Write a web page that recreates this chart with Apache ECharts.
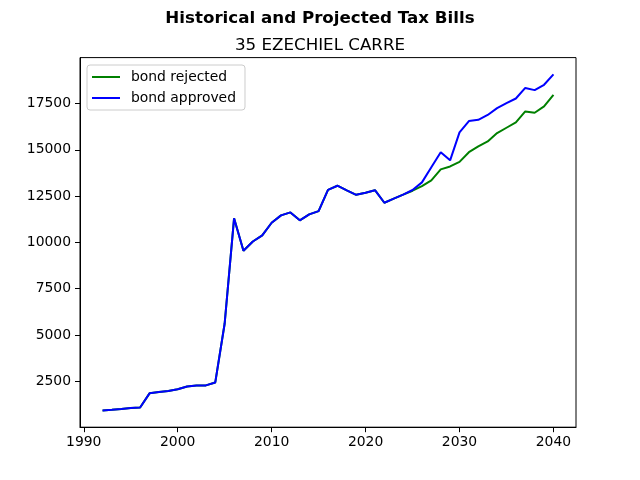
<!DOCTYPE html>
<html>
<head>
<meta charset="utf-8">
<script src="https://cdn.jsdelivr.net/npm/echarts@6/dist/echarts.min.js"></script>
<style>
html, body { margin: 0; padding: 0; background: #fff; }
#main { width: 640px; height: 480px; }
</style>
</head>
<body>
<div id="main"></div>
<script>
"use strict";

var years = [];
for (var yr = 1992; yr <= 2040; yr++) years.push(yr);

var approved = [930, 960, 1000, 1060, 1090, 1850, 1920, 1980, 2070, 2220,
	2270, 2280, 2440, 5620, 11300, 9550, 10050, 10380, 11060, 11460,
	11620, 11190, 11510, 11690, 12840, 13060, 12810, 12570, 12680, 12820,
	12140, 12360, 12580, 12830, 13240, 14060, 14870, 14430, 15940, 16550,
	16620, 16880, 17250, 17520, 17770, 18340, 18220, 18510, 19070];

var rejected = [930, 960, 1000, 1060, 1090, 1850, 1920, 1980, 2070, 2220,
	2270, 2280, 2440, 5620, 11300, 9550, 10050, 10380, 11060, 11460,
	11620, 11190, 11510, 11690, 12840, 13060, 12810, 12570, 12680, 12820,
	12140, 12360, 12580, 12790, 13040, 13350, 13940, 14100, 14350, 14870,
	15180, 15450, 15900, 16190, 16480, 17070, 17000, 17340, 17970];

var xTicks = [1990, 2000, 2010, 2020, 2030, 2040];
var yTicks = [2500, 5000, 7500, 10000, 12500, 15000, 17500];

// matplotlib style 5% margins
var xPad = (years[years.length - 1] - years[0]) * 0.05;
var allVals = approved.concat(rejected);
var yLo = Math.min.apply(null, allVals), yHi = Math.max.apply(null, allVals);
var yPad = (yHi - yLo) * 0.05;

function pairs(vals) {
	return years.map(function (y, i) { return [y, vals[i]]; });
}

var font = 'DejaVu Sans';
var chart = echarts.init(document.getElementById('main'), null, { renderer: 'canvas' });
var option = {
	backgroundColor: '#ffffff',
	animation: false,
	title: [{
		text: 'Historical and Projected Tax Bills',
		left: 'center',
		top: 10,
		padding: 0,
		textStyle: { fontFamily: font, fontSize: 16.7, fontWeight: 'bold', color: '#000' }
	}, {
		text: '35 EZECHIEL CARRE',
		left: 'center',
		top: 37,
		padding: 0,
		textStyle: { fontFamily: font, fontSize: 16.7, fontWeight: 'normal', color: '#000' }
	}],
	legend: {
		orient: 'vertical',
		left: 87,
		top: 65,
		padding: [4, 9, 4, 5],
		icon: 'rect',
		itemWidth: 28,
		itemHeight: 2,
		itemGap: 5,
		borderColor: '#cccccc',
		borderWidth: 1,
		borderRadius: 3,
		backgroundColor: 'rgba(255,255,255,0.8)',
		textStyle: { fontFamily: font, fontSize: 13.9, color: '#000', padding: [0, 0, 0, 6], lineHeight: 16 },
		data: ['bond rejected', 'bond approved']
	},
	grid: {
		left: 80,
		right: 64,
		top: 57.6,
		bottom: 52.8,
		show: true,
		borderColor: '#000',
		borderWidth: 1,
		backgroundColor: 'transparent'
	},
	xAxis: {
		type: 'value',
		min: years[0] - xPad,
		max: years[years.length - 1] + xPad,
		splitLine: { show: false },
		axisLine: { show: true, onZero: false, lineStyle: { color: '#000', width: 1 } },
		axisTick: { show: true, length: 5, lineStyle: { color: '#000' }, customValues: xTicks },
		axisLabel: {
			fontFamily: font, fontSize: 13.9, color: '#000', margin: 8, customValues: xTicks,
			formatter: function (v) { return String(v); }
		}
	},
	yAxis: {
		type: 'value',
		min: yLo - yPad,
		max: yHi + yPad,
		splitLine: { show: false },
		axisLine: { show: true, onZero: false, lineStyle: { color: '#000', width: 1 } },
		axisTick: { show: true, length: 5, lineStyle: { color: '#000' }, customValues: yTicks },
		axisLabel: {
			fontFamily: font, fontSize: 13.9, color: '#000', margin: 9, customValues: yTicks,
			formatter: function (v) { return String(v); }
		}
	},
	series: [{
		name: 'bond rejected',
		type: 'line',
		symbol: 'none',
		data: pairs(rejected),
		lineStyle: { color: '#008000', width: 2 },
		itemStyle: { color: '#008000' }
	}, {
		name: 'bond approved',
		type: 'line',
		symbol: 'none',
		data: pairs(approved),
		lineStyle: { color: '#0000ff', width: 2 },
		itemStyle: { color: '#0000ff' }
	}]
};
chart.setOption(option);
</script>
</body>
</html>
